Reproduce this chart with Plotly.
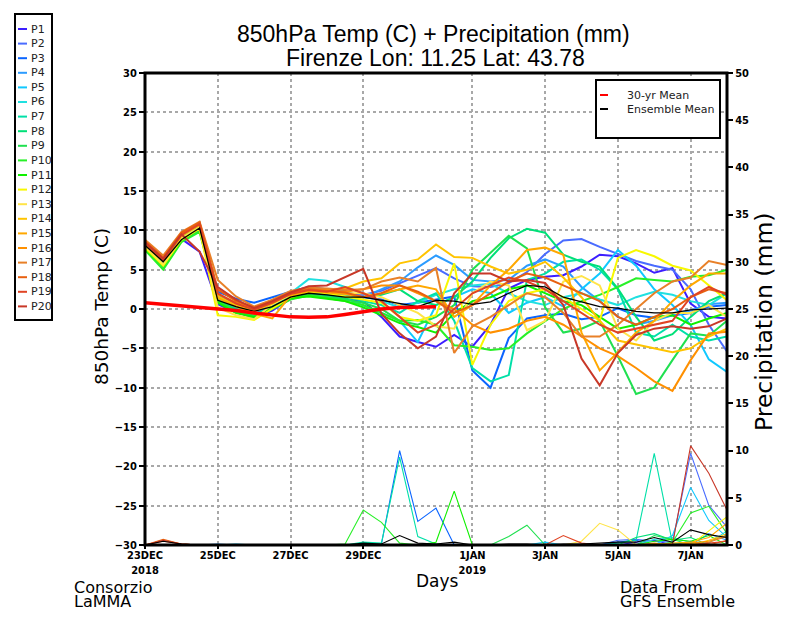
import plotly.graph_objects as go
import pandas as pd

# ---------------- data ----------------
times = pd.date_range("2018-12-23 00:00", periods=33, freq="12h")

member_names = [f"P{i}" for i in range(1, 21)]
member_colors = ["#3c1eff", "#4a6cff", "#0a64ff", "#2c9cff", "#10c8ff",
                 "#20e0e0", "#00e0a8", "#00e078", "#20e050", "#28f028",
                 "#10f000", "#f8f800", "#ffe448", "#ffc400", "#ffa800",
                 "#ff9000", "#e88028", "#e86010", "#e04424", "#c83828"]

temp_P1 = [7.8, 5.7, 8.9, 7.3, 0.6, -0.4, -1.1, -0.2, 1.3, 1.7, 1.5, 1.2, 1.0, -1.0, -3.5, -4.2, -4.8, -3.3, -4.8, -2.0, 2.6, 3.7, 4.1, 4.3, 5.4, 6.9, 6.7, 5.8, 4.6, 5.2, 0.7, -1.0, -1.2]
temp_P2 = [8.2, 6.1, 9.3, 10.6, 1.4, 0.1, -0.6, 0.4, 1.6, 2.1, 2.0, 1.9, 1.8, 2.3, 3.3, 4.3, 5.2, 3.9, 2.9, 2.8, 3.3, 4.7, 7.0, 8.7, 8.9, 7.9, 7.0, 6.1, 5.5, 5.0, 2.5, -2.0, -5.4]
temp_P3 = [8.4, 6.3, 9.5, 10.9, 2.2, 1.3, 0.8, 1.5, 2.2, 2.8, 2.5, 2.3, 1.5, 1.2, 0.5, 0.8, 1.2, 1.6, -7.8, -10.0, -3.7, -1.2, -0.8, -0.6, -1.3, -1.0, 0.1, -0.8, -1.1, -0.8, -0.5, 0.3, 0.5]
temp_P4 = [8.6, 6.6, 9.6, 11.0, 1.8, 0.6, -0.2, 0.6, 1.8, 2.4, 2.0, 1.8, 1.5, 2.5, 3.5, 5.3, 6.8, 5.6, 3.7, 3.5, 3.7, 5.5, 6.3, 5.4, 2.8, 1.0, -1.0, -2.0, -1.5, -0.8, -0.2, 0.6, 0.8]
temp_P5 = [8.0, 5.9, 9.1, 10.5, 1.0, -0.3, -0.9, 0.2, 1.4, 1.9, 1.7, 1.4, 0.5, -0.5, -1.5, -4.2, 0.5, 1.5, 2.5, 2.0, -0.5, 0.8, 1.5, 0.3, 2.5, 4.5, 7.5, 5.5, 2.5, 0.5, -2.0, -6.4, -8.0]
temp_P6 = [7.9, 5.8, 9.0, 10.3, 1.5, 0.4, -0.3, 0.8, 2.0, 3.8, 3.6, 2.8, 2.0, 1.0, 0.2, 0.8, 1.8, 2.5, 3.0, 3.2, 2.0, 1.0, 0.5, 1.5, 2.0, 1.2, 0.5, 1.5, 2.2, 1.8, 1.0, 0.5, 2.0]
temp_P7 = [8.1, 6.0, 9.2, 10.5, 1.2, 0.0, -0.7, 0.3, 1.6, 2.3, 1.9, 1.6, 1.0, 0.5, -0.5, 1.0, 2.0, -1.5, -7.5, -9.2, -8.4, 3.7, 4.5, 6.0, 6.3, 5.0, 2.5, -3.0, -3.5, -2.0, -3.5, -4.0, -3.5]
temp_P8 = [7.7, 5.4, 8.7, 10.1, 1.1, -0.1, -0.8, 0.2, 1.5, 2.0, 1.7, 1.4, 1.5, 1.8, 2.5, 1.0, 0.5, 1.5, 3.5, 6.5, 9.0, 10.2, 9.7, 6.9, 6.0, 5.4, 2.6, -1.0, -4.0, -3.2, -1.0, 1.0, 2.0]
temp_P9 = [7.6, 5.3, 8.6, 10.0, 1.0, -0.2, -0.9, 0.1, 1.3, 1.8, 1.5, 1.2, 0.8, 0.0, -1.5, -2.0, -1.0, 0.5, 5.0, 7.1, 9.3, 7.7, 0.2, -3.0, -2.5, -1.5, -6.0, -10.8, -10.0, -6.5, -3.1, -3.4, -1.5]
temp_P10 = [7.5, 5.0, 8.5, 9.8, 0.9, -0.3, -1.2, 0.0, 1.2, 1.7, 1.4, 1.0, 0.5, -0.5, -1.5, -1.4, -2.0, -4.6, -4.8, -5.2, -5.0, -3.1, -1.5, 0.0, 1.0, 1.8, 2.8, 3.9, 3.7, 3.5, 4.1, 4.3, 5.0]
temp_P11 = [7.7, 5.5, 8.8, 10.2, 0.8, -0.5, -1.0, 0.1, 1.4, 1.6, 1.3, 1.0, 0.2, -0.8, -1.8, -2.3, -3.0, -0.5, 1.0, 1.5, 2.5, 3.0, 2.0, 1.0, 0.5, -1.0, -2.5, -2.0, -1.0, -0.8, -2.0, -1.2, -0.5]
temp_P12 = [7.8, 5.5, 8.8, 10.2, -0.8, -1.0, -1.4, 0.0, 1.5, 2.2, 2.0, 1.6, 1.2, 0.8, -1.0, -1.5, -0.8, 5.8, -7.1, -2.0, 1.0, 2.0, 2.5, 1.5, 0.0, -1.5, 6.5, 7.5, 6.7, 5.5, 4.9, 3.0, 1.1]
temp_P13 = [8.0, 5.7, 9.0, 10.4, 0.2, -0.8, -1.3, 0.6, 1.8, 2.5, 2.3, 2.0, 2.0, 1.5, 0.5, -0.5, -2.2, -2.5, 2.0, 3.5, 3.0, -2.7, -1.5, 3.5, 4.2, 3.0, -2.5, -4.0, -1.5, -0.5, -0.5, 0.5, -1.0]
temp_P14 = [8.3, 6.2, 9.3, 10.7, 1.6, 0.5, -0.3, 0.7, 2.0, 2.6, 2.5, 2.6, 3.5, 3.9, 5.8, 6.3, 8.2, 6.6, 6.5, 5.4, 4.5, 5.0, 6.0, 4.0, 1.5, -1.5, -4.0, -4.5, -5.0, -5.5, -5.0, -3.5, -2.5]
temp_P15 = [8.5, 6.4, 9.5, 10.8, 1.4, 0.3, -0.6, -1.2, 1.7, 2.3, 2.1, 1.9, 1.5, 2.0, 2.5, 3.0, 2.5, -1.0, 0.5, 3.0, 5.0, 7.5, 7.8, 6.9, -3.0, -7.8, -5.5, -3.0, -1.5, 1.0, 3.0, 4.5, 4.5]
temp_P16 = [8.7, 6.5, 9.6, 10.9, 1.9, 0.8, 0.0, 0.9, 2.1, 2.6, 2.4, 2.2, 2.5, 3.0, 3.0, 2.0, 1.0, 0.0, -2.0, -3.0, -2.5, -1.5, -1.0, -2.0, -3.5, -5.0, -6.0, -7.5, -9.2, -10.4, -6.5, -3.1, -2.9]
temp_P17 = [8.8, 6.8, 9.8, 11.1, 3.7, 1.6, 0.3, 1.2, 2.3, 2.7, 2.6, 2.4, 2.5, 3.5, 4.0, 3.5, 5.2, -5.6, -2.2, -1.0, 0.5, 2.0, 1.5, -0.5, -3.5, -3.5, -2.0, 0.0, 2.0, 3.5, 4.0, 6.1, 5.6]
temp_P18 = [8.6, 6.5, 9.7, 11.0, 2.5, 1.0, 0.2, 1.0, 2.0, 2.5, 2.3, 2.1, 1.5, 2.0, 3.0, 2.2, 1.0, -0.5, 0.5, 2.0, 3.5, 4.5, 4.0, 3.0, 2.0, 1.0, -1.0, -2.0, -1.0, 0.0, 1.5, 2.5, 2.0]
temp_P19 = [8.4, 6.2, 9.4, 10.8, 2.0, 0.7, -0.1, 0.8, 1.9, 2.4, 2.2, 2.8, 2.0, 1.0, -1.0, -3.0, -2.0, 0.0, 2.0, 3.0, 4.0, 3.5, 2.5, 1.0, -0.5, -2.0, -3.0, -2.5, -2.0, -1.5, 1.5, 2.8, 1.8]
temp_P20 = [8.5, 6.4, 9.5, 7.3, 2.8, 1.2, 0.1, 1.0, 2.1, 2.9, 3.0, 4.0, 5.1, -0.6, -3.1, -5.0, -3.5, 2.0, 4.5, 4.5, 3.5, 3.7, 3.3, 0.5, -6.3, -9.7, -5.6, -3.3, -2.5, -2.2, -2.5, -2.2, -1.2]

precip_P1 = [0, 0, 0, 0, 0, 0, 0, 0, 0, 0, 0,  0, 0, 0, 0, 0, 0, 0, 0, 0, 0, 0,  0, 0, 0, 0, 0, 0.3, 0.5, 0, 0.4, 0, 0]
precip_P2 = [0, 0, 0, 0, 0, 0, 0, 0, 0, 0, 0,  0, 0, 0, 0, 0, 0, 0, 0, 0, 0, 0,  0, 0, 0, 0, 0.5, 0.6, 0.4, 0.3, 9.7, 4.2, 1.9]
precip_P3 = [0, 0, 0, 0, 0, 0, 0, 0, 0, 0, 0,  0, 0, 0.1, 10.0, 2.5, 3.9, 0, 0, 0, 0, 0,  0, 0, 0, 0, 0.3, 0.5, 0, 0, 0, 0, 0]
precip_P4 = [0, 0, 0, 0, 0.1, 0, 0, 0, 0, 0, 0,  0, 0, 0, 0, 0, 0, 0, 0, 0, 0, 0,  0, 0, 0, 0, 0, 0, 0, 0, 0, 1.2, 0.5]
precip_P5 = [0, 0, 0, 0, 0, 0.1, 0, 0, 0, 0, 0,  0, 0, 0, 0, 0, 0, 0, 0, 0, 0, 0,  0.3, 0, 0, 0, 0, 0, 0, 1.0, 6.1, 2.6, 0.8]
precip_P6 = [0, 0, 0, 0, 0, 0, 0, 0, 0, 0, 0,  0, 0, 0, 0, 0, 0, 0, 0, 0, 0, 0,  0, 0, 0, 0, 0, 0, 0.6, 0.8, 0.3, 0.2, 1.5]
precip_P7 = [0, 0, 0, 0, 0, 0, 0, 0, 0, 0, 0,  0, 0.3, 0.2, 9.3, 0.9, 0.1, 0, 0, 0, 0, 0,  0, 0, 0, 0, 0.2, 0.5, 9.7, 0.2, 0, 0, 0]
precip_P8 = [0, 0, 0, 0, 0, 0, 0, 0, 0, 0, 0,  0, 0, 0, 0, 0, 0, 0, 0, 0, 0, 0,  0, 0, 0, 0, 0, 0.8, 1.2, 0.5, 0.8, 0, 0]
precip_P9 = [0, 0, 0, 0, 0, 0, 0, 0, 0, 0, 0,  0, 0, 0, 0, 0, 0, 0, 0, 0, 0.9, 2.1,  0, 0, 0, 0, 0, 0, 1.0, 0.6, 0, 0, 0]
precip_P10 = [0, 0, 0, 0, 0, 0, 0, 0, 0, 0, 0,  0.1, 3.7, 2.4, 0.2, 0, 0, 0, 0, 0, 0, 0,  0, 0, 0, 0, 0, 0, 0, 0.3, 3.4, 4.1, 1.2]
precip_P11 = [0, 0, 0, 0, 0, 0, 0, 0, 0, 0, 0,  0, 0, 0, 0, 0, 0.3, 5.7, 0, 0, 0, 0,  0, 0, 0, 0, 0, 0, 0.4, 0.6, 0.4, 1.0, 0]
precip_P12 = [0, 0, 0, 0, 0, 0, 0, 0, 0, 0, 0,  0, 0, 0, 0, 0, 0, 0, 0, 0, 0, 0,  0, 0, 0, 0, 0, 0, 0, 0, 0, 1.5, 3.0]
precip_P13 = [0, 0, 0, 0, 0, 0, 0, 0, 0, 0, 0,  0, 0, 0, 0, 0, 0, 0, 0, 0, 0, 0,  0, 0, 0.4, 2.3, 1.6, 0, 0, 0, 0, 0, 0]
precip_P14 = [0, 0, 0, 0, 0, 0, 0, 0, 0, 0, 0,  0, 0, 0, 0, 0, 0, 0, 0, 0, 0, 0,  0, 0, 0, 0, 0, 0, 0, 0, 0, 0.5, 1.2]
precip_P15 = [0, 0, 0, 0, 0, 0, 0, 0, 0, 0, 0,  0, 0, 0, 0, 0, 0, 0, 0, 0, 0, 0,  0, 0, 0, 0, 0, 0, 0, 0.2, 0.3, 0.8, 2.3]
precip_P16 = [0, 0, 0, 0, 0, 0, 0, 0, 0, 0, 0,  0, 0, 0, 0, 0, 0, 0, 0, 0, 0, 0,  0, 0, 0, 0, 0, 0, 0.2, 0, 0.2, 0.4, 1.0]
precip_P17 = [0, 0.5, 0.1, 0, 0, 0, 0, 0, 0, 0, 0,  0, 0, 0, 0, 0, 0, 0, 0, 0, 0, 0,  0, 0, 0, 0, 0, 0, 0, 0, 0, 0.3, 0.9]
precip_P18 = [0, 0.6, 0.1, 0, 0, 0, 0, 0, 0, 0, 0,  0, 0, 0, 0, 0, 0, 0, 0, 0, 0, 0,  0, 0, 0, 0, 0, 0, 0, 0, 0, 0, 0.5]
precip_P19 = [0, 0.4, 0.1, 0, 0, 0, 0, 0, 0, 0, 0,  0, 0, 0, 0, 0, 0, 0, 0, 0, 0, 0,  0, 1.0, 0.2, 0, 0, 0, 0, 0, 0, 0.2, 0.4]
precip_P20 = [0, 0.5, 0.1, 0, 0, 0, 0, 0, 0, 0, 0,  0, 0, 0, 0, 0, 0, 0, 0, 0, 0, 0,  0, 0, 0, 0, 0, 0, 0, 0, 10.5, 7.6, 3.7]

ens_mean_temp = [8.1, 6.0, 8.8, 10.3, 1.1, 0.3, -0.3, 0.3, 1.5, 2.0, 1.8, 1.5, 1.5, 1.1, 0.7, 0.3, 1.1, 1.0, 0.6, 0.9, 2.0, 3.0, 2.8, 1.5, 0.9, 0.3, 0.1, -0.3, -0.5, -0.5, -0.1, 0.0, 0.1]
ens_mean_precip = [0, 0.4, 0.1, 0, 0, 0, 0, 0, 0, 0, 0,  0, 0.2, 0.1, 1.0, 0.2, 0.1, 0.3, 0, 0, 0.1, 0.1,  0, 0.1, 0.1, 0.2, 0.3, 0.3, 0.8, 0.3, 1.6, 1.1, 0.8]
clim_mean_temp = [0.8, 0.6, 0.45, 0.3, 0.1, -0.2, -0.5, -0.8, -1.0, -1.05, -1.0, -0.7, -0.3, 0.0, 0.2, 0.3, 0.3]

tick_dates = ["2018-12-23", "2018-12-25", "2018-12-27", "2018-12-29",
              "2019-01-01", "2019-01-03", "2019-01-05", "2019-01-07"]
tick_labels = ["23DEC<br>2018", "25DEC", "27DEC", "29DEC",
               "1JAN<br>2019", "3JAN", "5JAN", "7JAN"]
temp_ticks = [-30, -25, -20, -15, -10, -5, 0, 5, 10, 15, 20, 25, 30]
precip_ticks = [0, 5, 10, 15, 20, 25, 30, 35, 40, 45, 50]

member_temps = [temp_P1, temp_P2, temp_P3, temp_P4, temp_P5, temp_P6, temp_P7,
                temp_P8, temp_P9, temp_P10, temp_P11, temp_P12, temp_P13,
                temp_P14, temp_P15, temp_P16, temp_P17, temp_P18, temp_P19, temp_P20]
member_precips = [precip_P1, precip_P2, precip_P3, precip_P4, precip_P5,
                  precip_P6, precip_P7, precip_P8, precip_P9, precip_P10,
                  precip_P11, precip_P12, precip_P13, precip_P14, precip_P15,
                  precip_P16, precip_P17, precip_P18, precip_P19, precip_P20]

# ---------------- figure ----------------
# the page body has an 8px margin, so the figure is drawn 8px smaller/shifted
OFF = 8
W, H = 800 - 2 * OFF, 618 - 2 * OFF
L, R, T, B = 145 - OFF, 727 - OFF, 73 - OFF, 545 - OFF
PW, PH = R - L, B - T


def px(x):
    """reference-image pixel x -> paper coordinate"""
    return (x - OFF - L) / PW


def py(y):
    """reference-image pixel y -> paper coordinate"""
    return (B - (y - OFF)) / PH


TXT = "DejaVu Sans, Liberation Sans, sans-serif"
TITLE = "Liberation Sans, Arial, sans-serif"
COND = "DejaVu Sans Condensed, Liberation Sans Narrow, Arial Narrow, DejaVu Sans, sans-serif"

fig = go.Figure()

for name, color, vals in zip(member_names, member_colors, member_precips):
    fig.add_trace(go.Scatter(x=times, y=vals, mode="lines", name=name + " precip",
                             line=dict(color=color, width=1.1), yaxis="y2",
                             showlegend=False))
fig.add_trace(go.Scatter(x=times, y=ens_mean_precip, mode="lines",
                         line=dict(color="black", width=1.1), yaxis="y2",
                         showlegend=False))

for name, color, vals in zip(member_names, member_colors, member_temps):
    fig.add_trace(go.Scatter(x=times, y=vals, mode="lines", name=name,
                             line=dict(color=color, width=2), yaxis="y",
                             showlegend=False))
fig.add_trace(go.Scatter(x=times, y=ens_mean_temp, mode="lines",
                         line=dict(color="black", width=1.3), yaxis="y",
                         showlegend=False))
fig.add_trace(go.Scatter(x=times[:len(clim_mean_temp)], y=clim_mean_temp, mode="lines",
                         line=dict(color="#ff0000", width=3.5), yaxis="y",
                         showlegend=False))

grid = dict(showgrid=True, gridcolor="#a8a8a8", gridwidth=1.6, griddash="dot")

fig.update_layout(
    width=W, height=H, autosize=False,
    margin=dict(l=L, r=W - R, t=T, b=H - B, pad=0),
    plot_bgcolor="white", paper_bgcolor="white",
    showlegend=False,
    xaxis=dict(type="date", range=[times[0], times[-1]],
               tickmode="array", tickvals=tick_dates, ticktext=tick_labels,
               ticks="outside", ticklen=3, tickwidth=1.5, tickcolor="black",
               ticklabelstandoff=-3,
               tickfont=dict(family=COND, size=11, color="black", weight="bold"),
               showline=False, zeroline=False, **grid),
    yaxis=dict(range=[-30, 30], tickmode="array", tickvals=temp_ticks,
               ticks="outside", ticklen=5, tickwidth=1.5, tickcolor="black",
               tickfont=dict(family=COND, size=11, color="black", weight="bold"),
               showline=False, zeroline=False, **grid),
    yaxis2=dict(range=[0, 50], overlaying="y", side="right",
                tickmode="array", tickvals=precip_ticks,
                ticks="outside", ticklen=5, tickwidth=1.5, tickcolor="black",
                tickfont=dict(family=COND, size=11, color="black", weight="bold"),
                showgrid=False, showline=False, zeroline=False),
)

shapes = []
annotations = []

# plot frame
shapes.append(dict(type="rect", xref="paper", yref="paper", x0=0, x1=1, y0=0, y1=1,
                   line=dict(color="black", width=3), layer="above"))

# titles
annotations.append(dict(xref="paper", yref="paper", x=px(433), y=py(34),
                        text="850hPa Temp (C) + Precipitation (mm)", showarrow=False,
                        xanchor="center", yanchor="middle",
                        font=dict(family=TITLE, size=23, color="black")))
annotations.append(dict(xref="paper", yref="paper", x=px(435), y=py(58),
                        text="Firenze Lon: 11.25 Lat: 43.78", showarrow=False,
                        xanchor="center", yanchor="middle",
                        font=dict(family=TITLE, size=23, color="black")))
annotations.append(dict(xref="paper", yref="paper", x=px(101), y=py(307),
                        text="850hPa Temp (C)", showarrow=False, textangle=-90,
                        xanchor="center", yanchor="middle",
                        font=dict(family=TXT, size=18.5, color="black")))
annotations.append(dict(xref="paper", yref="paper", x=px(764), y=py(322),
                        text="Precipitation (mm)", showarrow=False, textangle=-90,
                        xanchor="center", yanchor="middle",
                        font=dict(family=TXT, size=23.5, color="black")))
annotations.append(dict(xref="paper", yref="paper", x=px(437), y=py(581),
                        text="Days", showarrow=False,
                        xanchor="center", yanchor="middle",
                        font=dict(family=TXT, size=17, color="black")))
for txt, xx, yy in [("Consorzio", 72, 587), ("LaMMA", 72, 601),
                    ("Data From", 618, 587), ("GFS Ensemble", 618, 601)]:
    annotations.append(dict(xref="paper", yref="paper", x=px(xx), y=py(yy),
                            text=txt, showarrow=False,
                            xanchor="left", yanchor="middle",
                            font=dict(family=TXT, size=16, color="black")))

# member legend box (left)
shapes.append(dict(type="rect", xref="paper", yref="paper",
                   x0=px(15), x1=px(52), y0=py(320), y1=py(14),
                   line=dict(color="black", width=2), fillcolor="white", layer="above"))
for i, (name, color) in enumerate(zip(member_names, member_colors)):
    yy = 29 + 14.6 * i
    shapes.append(dict(type="line", xref="paper", yref="paper",
                       x0=px(18), x1=px(27), y0=py(yy), y1=py(yy),
                       line=dict(color=color, width=2)))
    annotations.append(dict(xref="paper", yref="paper", x=px(29), y=py(yy),
                            text=name, showarrow=False,
                            xanchor="left", yanchor="middle",
                            font=dict(family=TXT, size=11, color="#222222")))

# mean legend box (inside plot)
shapes.append(dict(type="rect", xref="paper", yref="paper",
                   x0=px(596), x1=px(720), y0=py(138), y1=py(80),
                   line=dict(color="black", width=2), fillcolor="white", layer="above"))
for txt, color, yy in [("30-yr Mean", "#ff0000", 95), ("Ensemble Mean", "black", 109)]:
    shapes.append(dict(type="line", xref="paper", yref="paper",
                       x0=px(600), x1=px(608), y0=py(yy), y1=py(yy),
                       line=dict(color=color, width=2), layer="above"))
    annotations.append(dict(xref="paper", yref="paper", x=px(625), y=py(yy),
                            text=txt, showarrow=False,
                            xanchor="left", yanchor="middle",
                            font=dict(family=TXT, size=11, color="#222222")))

fig.update_layout(shapes=shapes, annotations=annotations)
fig.write_html("out.html")
